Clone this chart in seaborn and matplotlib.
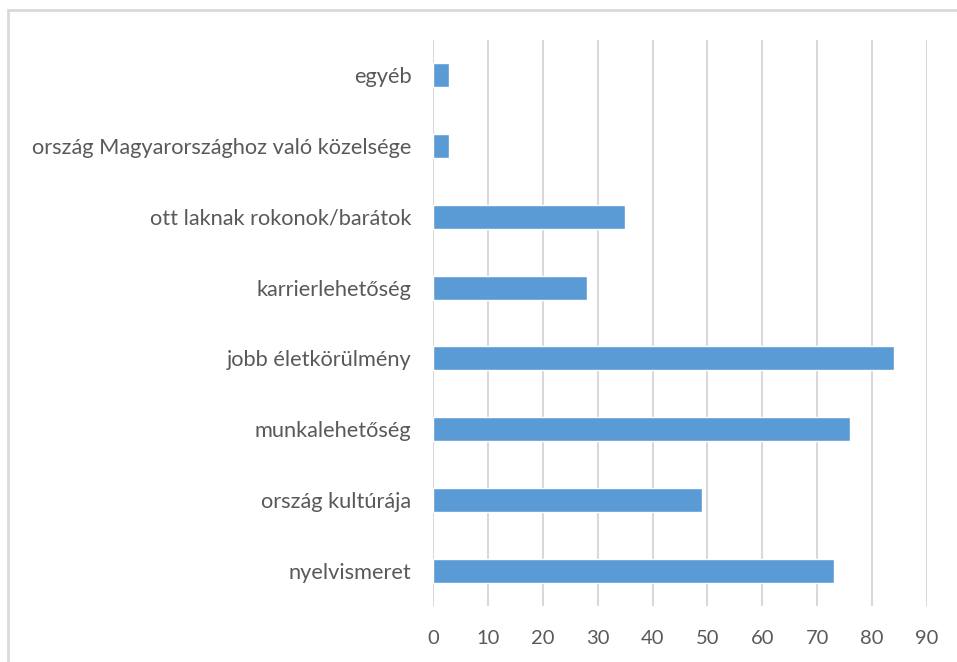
import pandas as pd
import matplotlib.pyplot as plt
import seaborn as sns
from matplotlib.patches import Rectangle

# Data
categories = [
    "egyéb",
    "ország Magyarországhoz való közelsége",
    "ott laknak rokonok/barátok",
    "karrierlehetőség",
    "jobb életkörülmény",
    "munkalehetőség",
    "ország kultúrája",
    "nyelvismeret",
]
values = [3, 3, 35, 28, 84, 76, 49, 73]
x_ticks = [0, 10, 20, 30, 40, 50, 60, 70, 80, 90]

df = pd.DataFrame({"ok": categories, "darab": values})

sns.set_theme(style="white")
plt.rcParams["font.family"] = ["Lato", "DejaVu Sans"]

fig = plt.figure(figsize=(9.57, 6.62), dpi=100)
ax = fig.add_axes([433 / 957, 1 - 606 / 662, (927 - 433) / 957, (606 - 40) / 662])

sns.barplot(data=df, x="darab", y="ok", color="#5B9BD5", width=0.34,
            saturation=1, ax=ax, zorder=3)

ax.set_xlim(0, 90)
ax.set_xticks(x_ticks)
ax.grid(axis="x", color="#D9D9D9", linewidth=1.5, zorder=0)
for s in ax.spines.values():
    s.set_visible(False)
ax.set_xlabel("")
ax.set_ylabel("")
ax.tick_params(axis="x", length=0, pad=17, labelsize=14.5, labelcolor="#595959")
ax.tick_params(axis="y", length=0, pad=15.5, labelsize=15.7, labelcolor="#595959")

# light frame around the chart area
fig.patches.append(Rectangle((8 / 957, -0.05), 1.2, 1 - 10 / 662 + 0.05,
                             transform=fig.transFigure, fill=False,
                             edgecolor="#D9D9D9", linewidth=2))

fig.savefig("out.png", dpi=100)
